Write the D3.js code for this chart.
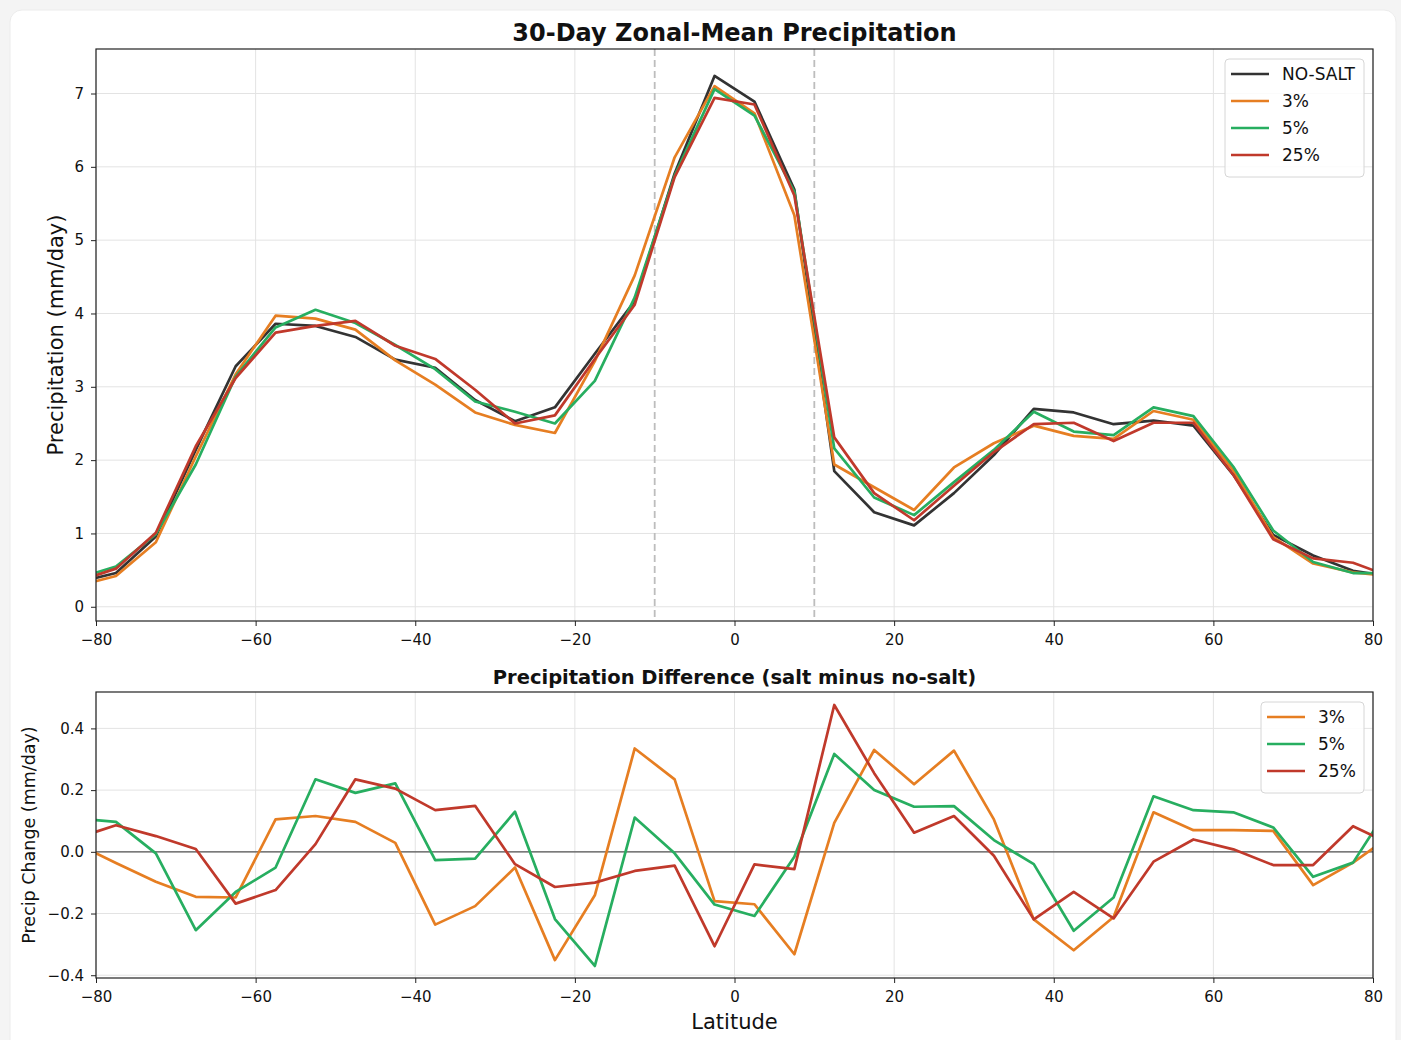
<!doctype html>
<html>
<head>
<meta charset="UTF-8" />
<script src="https://d3js.org/d3.v7.min.js"></script>
<style>
  body { margin: 0; background: #f4f4f4; font-family: "DejaVu Sans", sans-serif; }
  svg text { font-family: "DejaVu Sans", sans-serif; fill: #111; }
</style>
</head>
<body>
<svg id="chart" width="1401" height="1040"></svg>
<script>
(function () {
  "use strict";

  // latitude band centres (outer bands run past the clipped ±80 axis)
  const lats = [-82.5, -77.5, -72.5, -67.5, -62.5, -57.5, -52.5, -47.5, -42.5, -37.5, -32.5, -27.5,
    -22.5, -17.5, -12.5, -7.5, -2.5, 2.5, 7.5, 12.5, 17.5, 22.5, 27.5, 32.5, 37.5, 42.5, 47.5,
    52.5, 57.5, 62.5, 67.5, 72.5, 77.5, 82.5];

  const noSalt = [0.33, 0.46, 0.96, 2.14, 3.28, 3.86, 3.83, 3.68, 3.37, 3.26, 2.82, 2.53, 2.72, 3.45, 4.17, 5.91, 7.24,
    6.89, 5.69, 1.85, 1.29, 1.11, 1.55, 2.07, 2.70, 2.65, 2.49, 2.54, 2.47, 1.80, 0.98, 0.70, 0.49, 0.41];
  const salt3 = [0.28, 0.42, 0.88, 2.05, 3.17, 3.97, 3.93, 3.78, 3.36, 3.03, 2.65, 2.48, 2.37, 3.35, 4.52, 6.13, 7.10,
    6.73, 5.34, 1.94, 1.63, 1.32, 1.90, 2.23, 2.47, 2.33, 2.29, 2.67, 2.55, 1.86, 0.95, 0.59, 0.47, 0.41];
  const salt5 = [0.38, 0.55, 0.99, 1.94, 3.14, 3.81, 4.05, 3.87, 3.57, 3.24, 2.80, 2.66, 2.50, 3.08, 4.22, 5.88, 7.06,
    6.70, 5.66, 2.16, 1.49, 1.25, 1.70, 2.14, 2.66, 2.39, 2.34, 2.72, 2.60, 1.91, 1.04, 0.61, 0.46, 0.46];
  const salt25 = [0.34, 0.52, 1.01, 2.19, 3.12, 3.74, 3.83, 3.90, 3.56, 3.38, 2.96, 2.50, 2.61, 3.38, 4.12, 5.86, 6.94,
    6.85, 5.61, 2.31, 1.55, 1.18, 1.65, 2.11, 2.49, 2.51, 2.26, 2.51, 2.51, 1.80, 0.92, 0.66, 0.60, 0.40];

  const diff3 = [0.026, -0.036, -0.097, -0.146, -0.148, 0.105, 0.116, 0.097, 0.029, -0.236, -0.176, -0.051, -0.351,
    -0.141, 0.335, 0.235, -0.16, -0.17, -0.332, 0.094, 0.33, 0.219, 0.328, 0.105, -0.219, -0.319, -0.211, 0.128,
    0.07, 0.07, 0.068, -0.108, -0.035, 0.057];
  const diff5 = [0.109, 0.097, -0.005, -0.254, -0.13, -0.051, 0.235, 0.191, 0.222, -0.027, -0.022, 0.13, -0.218,
    -0.37, 0.111, -0.005, -0.171, -0.208, -0.016, 0.317, 0.2, 0.146, 0.148, 0.038, -0.04, -0.256, -0.148, 0.18,
    0.135, 0.128, 0.079, -0.081, -0.035, 0.165];
  const diff25 = [0.044, 0.086, 0.051, 0.009, -0.168, -0.124, 0.025, 0.235, 0.205, 0.135, 0.149, -0.04, -0.114,
    -0.1, -0.062, -0.045, -0.306, -0.041, -0.056, 0.476, 0.255, 0.062, 0.116, -0.013, -0.219, -0.13, -0.216,
    -0.032, 0.04, 0.008, -0.043, -0.043, 0.083, 0.021];

  const xTicks = [-80, -60, -40, -20, 0, 20, 40, 60, 80];
  const topTicks = [0, 1, 2, 3, 4, 5, 6, 7];
  const bottomTicks = [-0.4, -0.2, 0.0, 0.2, 0.4];
  const itczEdges = [-10, 10];

  const topSeries = [
    { name: "NO-SALT", values: noSalt, color: "#333333" },
    { name: "3%", values: salt3, color: "#e67e22" },
    { name: "5%", values: salt5, color: "#27ae60" },
    { name: "25%", values: salt25, color: "#c0392b" }
  ];
  const bottomSeries = [
    { name: "3%", values: diff3, color: "#e67e22" },
    { name: "5%", values: diff5, color: "#27ae60" },
    { name: "25%", values: diff25, color: "#c0392b" }
  ];

  const svg = d3.select("#chart");

  // card
  svg.append("rect").attr("x", 10).attr("y", 10).attr("width", 1386).attr("height", 1060)
    .attr("rx", 12).attr("fill", "#ffffff").attr("stroke", "#ececec");

  const left = 96, right = 1373;
  const x = d3.scaleLinear().domain([-80, 80]).range([left, right]);

  function panel(opts) {
    const y = d3.scaleLinear().domain(opts.yDomain).range([opts.bottom, opts.top]);
    const g = svg.append("g");
    const clipId = "clip" + opts.id;
    g.append("clipPath").attr("id", clipId).append("rect")
      .attr("x", left).attr("y", opts.top).attr("width", right - left).attr("height", opts.bottom - opts.top);

    // grid
    g.append("g").selectAll("line").data(xTicks).enter().append("line")
      .attr("x1", d => x(d)).attr("x2", d => x(d)).attr("y1", opts.top).attr("y2", opts.bottom)
      .attr("stroke", "#e3e3e3").attr("stroke-width", 1);
    g.append("g").selectAll("line").data(opts.yTicks).enter().append("line")
      .attr("x1", left).attr("x2", right).attr("y1", d => y(d)).attr("y2", d => y(d))
      .attr("stroke", "#e3e3e3").attr("stroke-width", 1);

    if (opts.extra) opts.extra(g, y);

    const line = d3.line().x((d, i) => x(lats[i])).y(d => y(d));
    g.append("g").attr("clip-path", "url(#" + clipId + ")")
      .selectAll("path").data(opts.series).enter().append("path")
      .attr("d", d => line(d.values))
      .attr("fill", "none").attr("stroke", d => d.color).attr("stroke-width", 2.7)
      .attr("stroke-linejoin", "round");

    // axes
    const xAxis = g.append("g").attr("transform", "translate(0," + opts.bottom + ")")
      .call(d3.axisBottom(x).tickValues(xTicks).tickSize(5).tickPadding(8).tickFormat(d3.format("d")));
    const yAxis = g.append("g").attr("transform", "translate(" + left + ",0)")
      .call(d3.axisLeft(y).tickValues(opts.yTicks).tickSize(5).tickPadding(7).tickFormat(opts.yFormat));
    [xAxis, yAxis].forEach(a => {
      a.select(".domain").remove();
      a.selectAll(".tick line").attr("stroke", "#222");
      a.selectAll(".tick text").style("font-size", "15px").attr("fill", "#111");
    });
    g.append("rect").attr("x", left).attr("y", opts.top).attr("width", right - left)
      .attr("height", opts.bottom - opts.top).attr("fill", "none").attr("stroke", "#222").attr("stroke-width", 1.2);

    g.append("text").attr("x", (left + right) / 2).attr("y", opts.titleY).attr("text-anchor", "middle")
      .style("font-size", opts.titleSize).style("font-weight", "bold").text(opts.title);
    g.append("text").attr("transform", "translate(" + opts.ylabelX + "," + (opts.top + opts.bottom) / 2 + ") rotate(-90)")
      .attr("text-anchor", "middle").style("font-size", opts.ylabelSize).text(opts.ylabel);

    // legend
    const lg = g.append("g").attr("transform", "translate(" + opts.legend.x + "," + opts.legend.y + ")");
    lg.append("rect").attr("width", opts.legend.w).attr("height", opts.series.length * 27 + 10)
      .attr("rx", 4).attr("fill", "rgba(255,255,255,0.85)").attr("stroke", "#d6d6d6");
    const items = lg.selectAll("g").data(opts.series).enter().append("g")
      .attr("transform", (d, i) => "translate(0," + (15 + i * 27) + ")");
    items.append("line").attr("x1", 6).attr("x2", 44).attr("stroke", d => d.color).attr("stroke-width", 2.7);
    items.append("text").attr("x", 57).attr("y", 6).style("font-size", "17px").text(d => d.name);

    return y;
  }

  panel({
    id: "top", top: 49, bottom: 621, yDomain: [-0.194, 7.607], yTicks: topTicks, yFormat: d3.format("d"),
    series: topSeries, title: "30-Day Zonal-Mean Precipitation", titleY: 41, titleSize: "24px",
    ylabel: "Precipitation (mm/day)", ylabelX: 63, ylabelSize: "21px",
    legend: { x: 1225, y: 59, w: 139 },
    extra: function (g, y) {
      g.append("g").selectAll("line").data(itczEdges).enter().append("line")
        .attr("x1", d => x(d)).attr("x2", d => x(d)).attr("y1", 49).attr("y2", 621)
        .attr("stroke", "#bdbdbd").attr("stroke-width", 1.8).attr("stroke-dasharray", "7,4");
    }
  });

  panel({
    id: "bottom", top: 692, bottom: 978, yDomain: [-0.409, 0.518], yTicks: bottomTicks, yFormat: d3.format(".1f"),
    series: bottomSeries, title: "Precipitation Difference (salt minus no-salt)", titleY: 684, titleSize: "19.5px",
    ylabel: "Precip Change (mm/day)", ylabelX: 35, ylabelSize: "17.5px",
    legend: { x: 1261, y: 702, w: 103 },
    extra: function (g, y) {
      g.append("line").attr("x1", left).attr("x2", right).attr("y1", y(0)).attr("y2", y(0))
        .attr("stroke", "#555").attr("stroke-width", 1.2);
    }
  });

  svg.append("text").attr("x", (left + right) / 2).attr("y", 1029).attr("text-anchor", "middle")
    .style("font-size", "21px").text("Latitude");
})();
</script>
</body>
</html>
